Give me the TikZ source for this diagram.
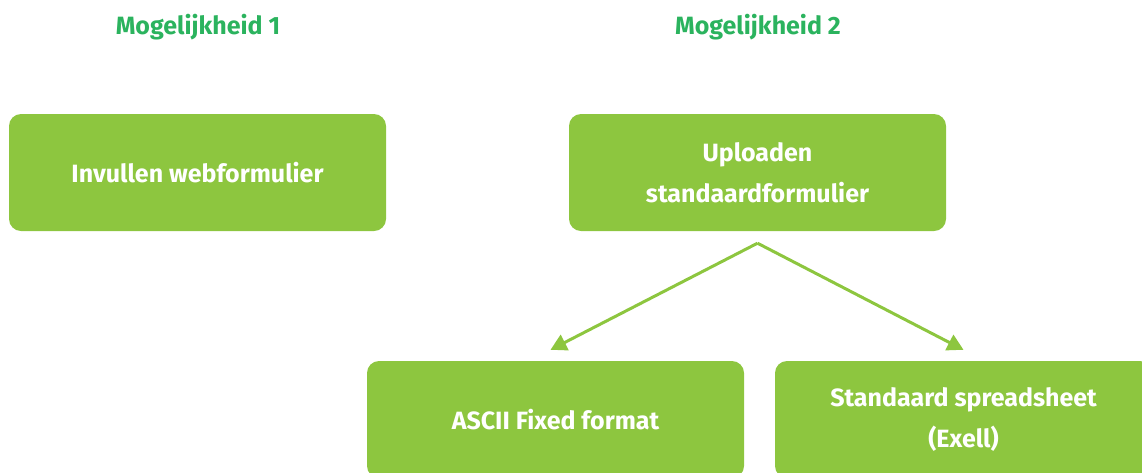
\documentclass[tikz,border=0pt]{standalone}
\usepackage{fontspec}
\setmainfont{Fira Sans}
\usetikzlibrary{positioning, arrows.meta}

\definecolor{boxgreen}{HTML}{8DC63F}
\definecolor{titlegreen}{HTML}{2BB35E}

\tikzset{
  optbox/.style={fill=boxgreen, rounded corners=12pt, minimum width=377pt,
    minimum height=117pt, inner sep=0, text=white, align=center,
    font=\fontsize{25}{41}\selectfont\bfseries},
  opttitle/.style={inner sep=0, text=titlegreen,
    font=\fontsize{25}{30}\selectfont\bfseries},
  splitarrow/.style={draw=boxgreen, line width=3pt,
    -{Triangle[length=16pt,width=17pt]}}
}

\begin{document}
\begin{tikzpicture}[x=1pt,y=-1pt]
  \useasboundingbox (0,0) rectangle (1142,472);
  \clip (0,0) rectangle (1142,472);

  % mogelijkheid 1
  \node(title1)[opttitle] at (198,27) {Mogelijkheid 1};
  \node(web)[optbox] at (197.5,172.5) {Invullen webformulier};

  % mogelijkheid 2
  \node(title2)[opttitle] at (758,27) {Mogelijkheid 2};
  \node(upload)[optbox] at (757.5,172.5) {Uploaden\\standaardformulier};
  \coordinate(split) at ([yshift=-12pt]upload.south);

  \node(ascii)[optbox] at (555.5,419.5) {ASCII Fixed format};
  \node(sheet)[optbox] at (963.5,419.5) {Standaard spreadsheet\\(Exell)};

  \draw[splitarrow](split)--([xshift=-5pt,yshift=11pt]ascii.north);
  \draw[splitarrow](split)--([yshift=11pt]sheet.north);
\end{tikzpicture}
\end{document}
